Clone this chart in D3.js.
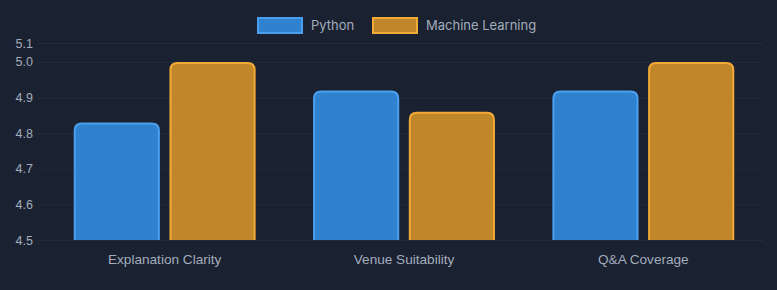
<!DOCTYPE html>
<html>
<head>
<meta charset="utf-8">
<script src="https://cdn.jsdelivr.net/npm/d3@7"></script>
<style>
  html, body { margin: 0; padding: 0; background: #1a2130; }
  svg { display: block; font-family: Inter, "Noto Sans", sans-serif; }
</style>
</head>
<body>
<div id="container"></div>
<script>
// data
const categories = ["Explanation Clarity", "Venue Suitability", "Q&A Coverage"];
const seriesNames = ["Python", "Machine Learning"];
const pythonValues = [4.83, 4.92, 4.92];
const mlValues = [5.0, 4.86, 5.0];
const tickValues = [4.5, 4.6, 4.7, 4.8, 4.9, 5.0, 5.053];
const tickLabels = ["4.5", "4.6", "4.7", "4.8", "4.9", "5.0", "5.1"];

const width = 777, height = 290;
const margin = { top: 43, right: 14, bottom: 50, left: 45 };

const fills = ["#3182ce", "#c0862a"];
const strokes = ["#4a9ff0", "#f2aa36"];
const textColor = "#a3adbd";
const gridColor = "#232c3e";

const svg = d3.select("#container").append("svg")
  .attr("width", width).attr("height", height);

const x0 = d3.scaleBand()
  .domain(categories)
  .range([margin.left, width - margin.right])
  .paddingInner(0).paddingOuter(0);

const x1 = d3.scaleBand()
  .domain(seriesNames)
  .range([0, x0.bandwidth() * 0.8]);

const y = d3.scaleLinear()
  .domain([4.5, 5.053])
  .range([height - margin.bottom, margin.top]);

// grid + y labels
const yAxis = svg.append("g")
  .attr("transform", `translate(${margin.left},0)`)
  .call(d3.axisLeft(y)
    .tickValues(tickValues)
    .tickFormat((d, i) => tickLabels[i])
    .tickSize(-(width - margin.left - margin.right))
    .tickPadding(10));
yAxis.select(".domain").remove();
yAxis.selectAll(".tick line")
  .attr("stroke", gridColor)
  .attr("x1", -7);
yAxis.selectAll(".tick text")
  .attr("fill", textColor)
  .attr("font-size", 12.5)
  .attr("x", -12);

// x labels
const xAxis = svg.append("g")
  .attr("transform", `translate(0,${height - margin.bottom})`)
  .call(d3.axisBottom(x0).tickSize(0).tickPadding(14));
xAxis.select(".domain").remove();
xAxis.selectAll(".tick text")
  .attr("fill", textColor)
  .attr("font-size", 13.6);

// bars with rounded top corners
function topRounded(xp, yp, w, h, r) {
  r = Math.min(r, h, w / 2);
  return `M${xp},${yp + h}V${yp + r}Q${xp},${yp} ${xp + r},${yp}` +
    `H${xp + w - r}Q${xp + w},${yp} ${xp + w},${yp + r}V${yp + h}`;
}

const rows = categories.map((c, i) => ({ cat: c, vals: [pythonValues[i], mlValues[i]] }));
const groups = svg.append("g").selectAll("g")
  .data(rows)
  .join("g")
  .attr("transform", d => `translate(${x0(d.cat) + x0.bandwidth() * 0.1},0)`);

groups.selectAll("path")
  .data(d => d.vals.map((v, k) => ({ v, k })))
  .join("path")
  .attr("d", d => {
    const bw = x1.bandwidth() * 0.9;
    const bx = x1(seriesNames[d.k]) + (x1.bandwidth() - bw) / 2;
    const top = y(d.v);
    return topRounded(bx + 1, top + 1, bw - 2, y(4.5) - top - 1, 7);
  })
  .attr("fill", d => fills[d.k])
  .attr("stroke", d => strokes[d.k])
  .attr("stroke-width", 2);

// legend
const legend = svg.append("g");
const legendItems = [
  { name: seriesNames[0], x: 258 },
  { name: seriesNames[1], x: 373 }
];
legendItems.forEach((d, k) => {
  legend.append("rect")
    .attr("x", d.x).attr("y", 18)
    .attr("width", 44).attr("height", 15)
    .attr("fill", fills[k])
    .attr("stroke", strokes[k])
    .attr("stroke-width", 2);
  legend.append("text")
    .attr("x", d.x + 53).attr("y", 30)
    .attr("fill", textColor)
    .attr("font-size", 13)
    .text(d.name);
});
</script>
</body>
</html>
